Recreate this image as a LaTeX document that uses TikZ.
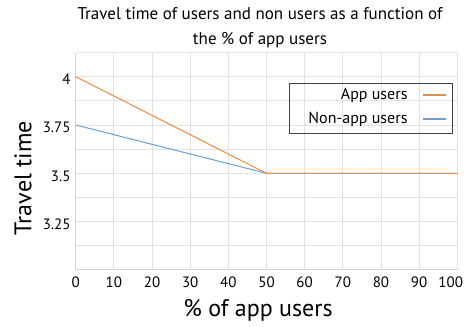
\documentclass[tikz,border=0pt]{standalone}
\usepackage{fontspec}
\setmainfont{PT Sans}
\definecolor{gridgray}{HTML}{E2E2E2}
\definecolor{axisgray}{HTML}{D4D4D4}
\definecolor{apporange}{HTML}{F28A3C}
\definecolor{nonblue}{HTML}{6A9FD8}
\begin{document}
\begin{tikzpicture}[x=1pt,y=-1pt,
  gridline/.style={draw=gridgray,line width=0.8pt},
  axisline/.style={draw=axisgray,line width=0.9pt},
  ticklab/.style={font=\fontsize{15}{15}\selectfont,inner sep=0pt},
  series/.style={line width=1pt},
  legtext/.style={font=\fontsize{16}{16}\selectfont,inner sep=0pt,anchor=east}]
\useasboundingbox[fill=white] (0,0) rectangle (464,327);
% title
\node[align=center,font=\fontsize{17}{25}\selectfont,inner sep=0pt] (title) at (260,28)
  {Travel time of users and non users as a function of\\the \% of app users};
\begin{scope}[shift={(75.7pt,-269.9pt)},x=3.816pt,y=193.2pt]
  \foreach \i in {1,...,10} \draw[gridline] (10*\i,0) -- (10*\i,1.125);
  \foreach \j in {1,...,9} \draw[gridline] (0,0.125*\j) -- (100,0.125*\j);
  \draw[axisline] (0,0) -- (0,1.125);
  \draw[axisline] (0,0) -- (100,0);
  \foreach \i in {0,10,...,90} \node[ticklab] (xt\i) at (\i,-0.066) {\i};
  \node[ticklab,anchor=east] (xt100) at (101.55,-0.066) {100};
  \node[ticklab,anchor=east] (yt1) at (-1.3,0.236) {3.25};
  \node[ticklab,anchor=east] (yt2) at (-1.3,0.486) {3.5};
  \node[ticklab,anchor=east] (yt3) at (-1.3,0.736) {3.75};
  \node[ticklab,anchor=east] (yt4) at (-1.3,0.986) {4};
  \coordinate (a0) at (0,1);
  \coordinate (a50) at (50,0.5);
  \coordinate (a100) at (100,0.5);
  \coordinate (b0) at (0,0.75);
  \coordinate (b50) at (50,0.5);
  \coordinate (b100) at (100,0.5);
  \draw[series,nonblue] (b0) -- (b50) -- (b100);
  \draw[series,apporange] (a0) -- (a50) -- (a100);
\end{scope}
% axis titles
\node[font=\fontsize{24}{24}\selectfont,inner sep=0pt] (xlab) at (258,310) {\% of app users};
\node[font=\fontsize{24}{24}\selectfont,inner sep=0pt,rotate=90] (ylab) at (23,178) {Travel time};
% legend
\node[draw=black!75,line width=0.7pt,minimum width=163pt,minimum height=50pt,anchor=north west,inner sep=0pt] (legend) at (289.3,83.3) {};
\node[legtext] (l1) at (407.7,95) {App users};
\node[legtext] (l2) at (407.7,119) {Non-app users};
\coordinate (l1a) at (423.3,95);
\coordinate (l1b) at (445.7,95);
\coordinate (l2a) at (423.3,119);
\coordinate (l2b) at (445.7,119);
\draw[apporange,line width=2.2pt] (l1a) -- (l1b);
\draw[nonblue,line width=2.2pt] (l2a) -- (l2b);
\end{tikzpicture}
\end{document}
